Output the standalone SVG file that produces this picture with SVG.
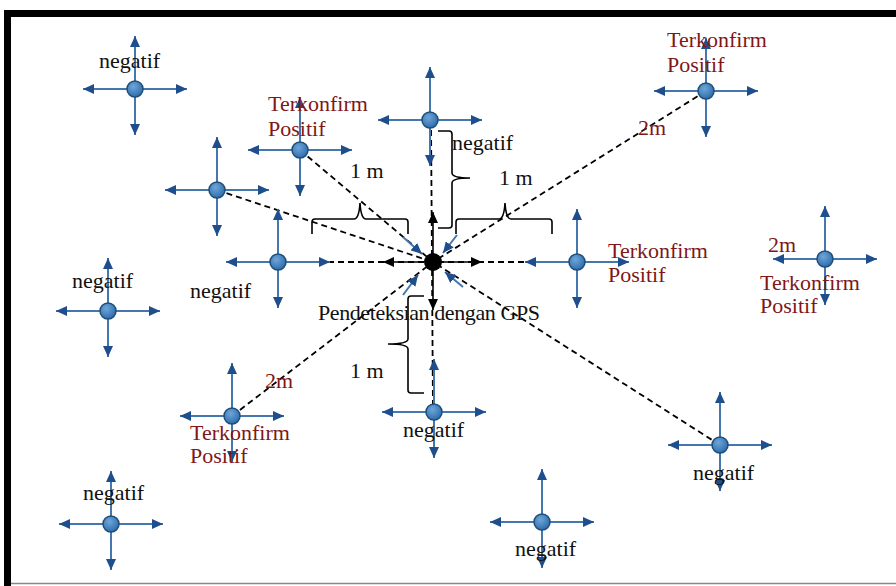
<svg xmlns="http://www.w3.org/2000/svg" width="896" height="586" viewBox="0 0 896 586">
<style>
.t{font-family:"Liberation Serif","Times New Roman",serif;font-size:22px;fill:#111}
.r{fill:#7F1717}
.arm{stroke:#4377AD;stroke-width:2;fill:none}
.dash{stroke:#000;stroke-width:1.8;stroke-dasharray:6 4;fill:none}
.brace{stroke:#000;stroke-width:1.6;fill:none}
.blk{stroke:#000;stroke-width:1.6;fill:none}
.dot{fill:url(#g);stroke:#1F4E79;stroke-width:1.5}
</style>
<defs>
<radialGradient id="g" cx="40%" cy="35%" r="70%">
<stop offset="0" stop-color="#6FA6DA"/>
<stop offset="1" stop-color="#2A69A8"/>
</radialGradient>
<marker id="ab" markerUnits="userSpaceOnUse" markerWidth="11" markerHeight="10" viewBox="0 0 11 10" refX="11" refY="5" orient="auto">
<path d="M0,0 L11,5 L0,10 z" fill="#1F4E8C"/>
</marker>
<marker id="ak" markerUnits="userSpaceOnUse" markerWidth="11" markerHeight="10" viewBox="0 0 11 10" refX="11" refY="5" orient="auto">
<path d="M0,0 L11,5 L0,10 z" fill="#000"/>
</marker>
<g id="cross">
<line class="arm" x1="0" y1="0" x2="-52" y2="0" marker-end="url(#ab)"/>
<line class="arm" x1="0" y1="0" x2="52" y2="0" marker-end="url(#ab)"/>
<line class="arm" x1="0" y1="0" x2="0" y2="-53" marker-end="url(#ab)"/>
<line class="arm" x1="0" y1="0" x2="0" y2="46" marker-end="url(#ab)"/>
<circle class="dot" r="8"/>
</g>
</defs>
<rect width="896" height="586" fill="#fff"/>
<path d="M7.5,586 V13.5 H896" stroke="#000" stroke-width="7" fill="none"/>
<line x1="11" y1="583.5" x2="896" y2="583.5" stroke="#888" stroke-width="1.5"/>

<g id="connectors">
<line class="dash" x1="431" y1="120" x2="433" y2="412"/>
<line class="dash" x1="278" y1="262" x2="577" y2="262"/>
<line class="dash" x1="300" y1="150" x2="433" y2="262"/>
<line class="dash" x1="217" y1="190" x2="433" y2="262"/>
<line class="dash" x1="706" y1="91" x2="433" y2="262"/>
<line class="dash" x1="232" y1="416" x2="433" y2="262"/>
<line class="dash" x1="720" y1="445" x2="433" y2="262"/>
<line class="blk" x1="433" y1="254" x2="433" y2="212" marker-end="url(#ak)"/>
<line class="blk" x1="424" y1="262" x2="383" y2="262" marker-end="url(#ak)"/>
<line class="blk" x1="442" y1="262" x2="482" y2="262" marker-end="url(#ak)"/>
<line class="blk" x1="433" y1="270" x2="433" y2="310" marker-end="url(#ak)"/>
<line class="arm" x1="403" y1="237" x2="422" y2="254" marker-end="url(#ab)"/>
<line class="arm" x1="457" y1="235" x2="443" y2="253" marker-end="url(#ab)"/>
<line class="arm" x1="403" y1="295" x2="418" y2="275" marker-end="url(#ab)"/>
<line class="arm" x1="463" y1="287" x2="445" y2="272" marker-end="url(#ab)"/>
<path class="brace" d="M312,234 V222 Q312,219 315,219 H354 Q359,219 360,203 Q361,219 366,219 H405 Q408,219 408,222 V234"/>
<path class="brace" d="M456,234 V222 Q456,219 459,219 H499 Q504,219 505,203 Q506,219 511,219 H549 Q552,219 552,222 V234"/>
<path class="brace" d="M438,131 H449 Q452,131 452,134 V173 Q452,178 470,178 Q452,178 452,183 V225 Q452,228 449,228 H438"/>
<path class="brace" d="M424,296 H411 Q408,296 408,299 V339 Q408,344 388,344 Q408,344 408,349 V390 Q408,393 411,393 H424"/>
<text class="t" x="350" y="178">1 m</text>
<text class="t" x="499" y="185">1 m</text>
<text class="t" x="350" y="378">1 m</text>
<text class="t r" x="638" y="135">2m</text>
<text class="t r" x="768" y="252">2m</text>
<text class="t r" x="265" y="388">2m</text>
</g>

<g id="center">
<circle cx="433" cy="262" r="9" fill="#000"/>
<text class="t" x="318" y="320" textLength="222">Pendeteksian dengan GPS</text>
</g>

<g id="n1"><use href="#cross" x="135" y="89"/><text class="t" x="99" y="68">negatif</text></g>
<g id="n2"><use href="#cross" x="300" y="150"/><text class="t r" x="268" y="111">Terkonfirm</text><text class="t r" x="268" y="136">Positif</text></g>
<g id="n3"><use href="#cross" x="430" y="120"/><text class="t" x="452" y="150">negatif</text></g>
<g id="n4"><use href="#cross" x="706" y="91"/><text class="t r" x="667" y="47">Terkonfirm</text><text class="t r" x="667" y="72">Positif</text></g>
<g id="n5"><use href="#cross" x="217" y="190"/></g>
<g id="n6"><use href="#cross" x="278" y="262"/><text class="t" x="190" y="298">negatif</text></g>
<g id="n7"><use href="#cross" x="577" y="262"/><text class="t r" x="608" y="258">Terkonfirm</text><text class="t r" x="608" y="282">Positif</text></g>
<g id="n8"><use href="#cross" x="825" y="259"/><text class="t r" x="760" y="290">Terkonfirm</text><text class="t r" x="760" y="313">Positif</text></g>
<g id="n9"><use href="#cross" x="108" y="311"/><text class="t" x="72" y="288">negatif</text></g>
<g id="n10"><use href="#cross" x="232" y="416"/><text class="t r" x="190" y="440">Terkonfirm</text><text class="t r" x="190" y="463">Positif</text></g>
<g id="n11"><use href="#cross" x="434" y="412"/><text class="t" x="403" y="437">negatif</text></g>
<g id="n12"><use href="#cross" x="720" y="445"/><text class="t" x="693" y="480">negatif</text></g>
<g id="n13"><use href="#cross" x="111" y="524"/><text class="t" x="83" y="500">negatif</text></g>
<g id="n14"><use href="#cross" x="542" y="522"/><text class="t" x="515" y="556">negatif</text></g>
</svg>
